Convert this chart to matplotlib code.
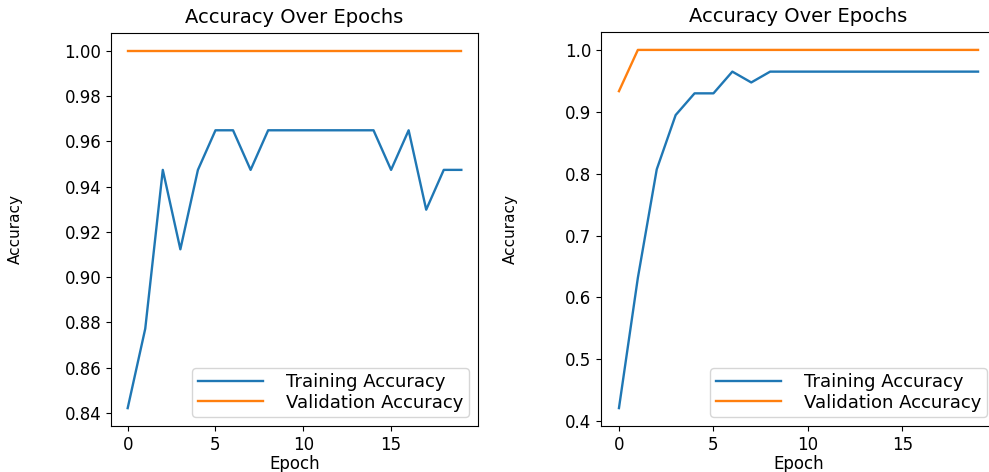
import matplotlib
matplotlib.use("Agg")
import matplotlib.pyplot as plt

epochs = list(range(20))

# Left run
train_acc_1 = [0.8421, 0.8772, 0.9474, 0.9123, 0.9474, 0.9649, 0.9649, 0.9474, 0.9649, 0.9649,
               0.9649, 0.9649, 0.9649, 0.9649, 0.9649, 0.9474, 0.9649, 0.9298, 0.9474, 0.9474]
val_acc_1 = [1.0] * 20

# Right run
train_acc_2 = [0.4211, 0.6316, 0.8070, 0.8947, 0.9298, 0.9298, 0.9649, 0.9474, 0.9649, 0.9649,
               0.9649, 0.9649, 0.9649, 0.9649, 0.9649, 0.9649, 0.9649, 0.9649, 0.9649, 0.9649]
val_acc_2 = [0.9333] + [1.0] * 19

title = "Accuracy Over Epochs"
xlabel = "Epoch"
ylabel = "Accuracy"
labels = ["Training Accuracy", "Validation Accuracy"]

W, H = 989, 472
fig = plt.figure(figsize=(W / 100, H / 100), dpi=100)

ax1 = fig.add_axes([111 / W, (H - 426) / H, 367 / W, 393 / H])
ax2 = fig.add_axes([601 / W, (H - 426) / H, 395 / W, 394 / H])

for ax, tr, va in [(ax1, train_acc_1, val_acc_1), (ax2, train_acc_2, val_acc_2)]:
    ax.plot(epochs, tr, color="#1f77b4", label=labels[0], linewidth=1.7)
    ax.plot(epochs, va, color="#ff7f0e", label=labels[1], linewidth=1.7)
    ax.set_title(title, fontsize=14, pad=7)
    ax.set_xlabel(xlabel, fontsize=12, labelpad=1)
    ax.set_ylabel(ylabel, fontsize=11)
    ax.tick_params(labelsize=12)
    ax.set_xticks([0, 5, 10, 15])
    ax.legend(loc="lower right", fontsize=13, handlelength=3.6, handletextpad=1.3,
              borderpad=0.3, labelspacing=0.12, borderaxespad=0.5)

ax1.set_yticks([0.84, 0.86, 0.88, 0.90, 0.92, 0.94, 0.96, 0.98, 1.00])
ax2.set_yticks([0.4, 0.5, 0.6, 0.7, 0.8, 0.9, 1.0])
ax1.yaxis.set_label_coords(-0.24, 0.5)
ax2.yaxis.set_label_coords(-0.21, 0.5)

fig.savefig("out.png", dpi=100)
